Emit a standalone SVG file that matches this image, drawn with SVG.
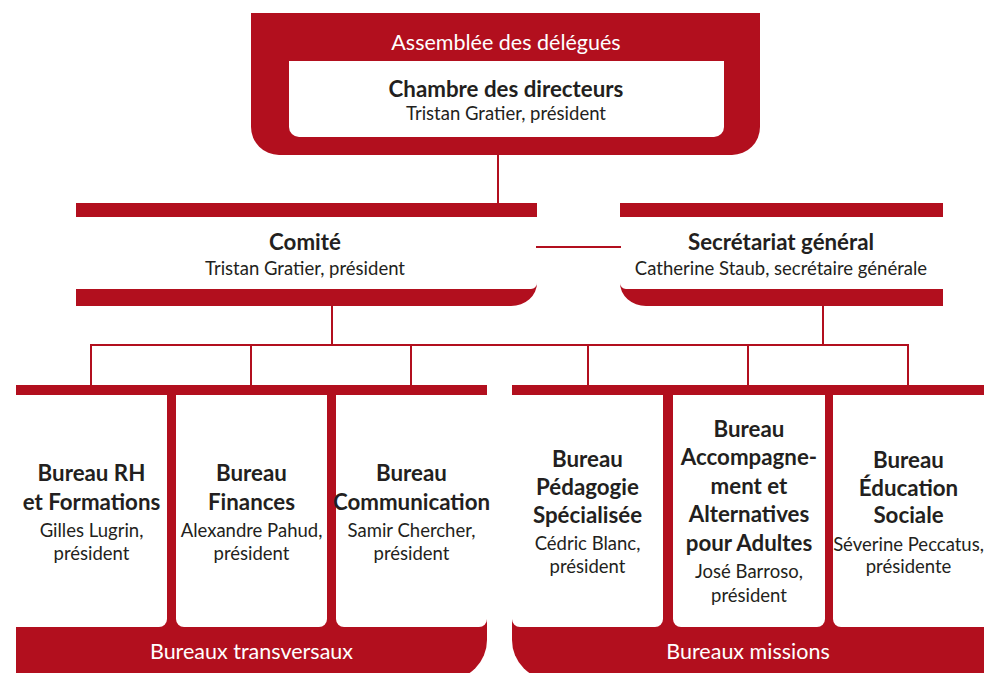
<svg xmlns="http://www.w3.org/2000/svg" width="984" height="673" viewBox="0 0 984 673">
<style>
.red{fill:#B20F1E}
.wh{fill:#FFFFFF}
.ln{stroke:#B20F1E;stroke-width:2;fill:none}
text{font-family:Lato,"Open Sans","Liberation Sans",sans-serif;text-anchor:middle}
.b{font-weight:bold;font-size:22.3px;fill:#231F20}
.r{font-size:18.5px;fill:#231F20}
.w{font-size:21.5px;fill:#FFFFFF}
</style>
<rect width="984" height="673" fill="#FFFFFF"/>
<g id="connectors">
<line class="ln" x1="498" y1="150" x2="498" y2="204"/>
<line class="ln" x1="536" y1="247" x2="621" y2="247"/>
<line class="ln" x1="332" y1="305" x2="332" y2="345"/>
<line class="ln" x1="823" y1="305" x2="823" y2="345"/>
<line class="ln" x1="90" y1="345" x2="909" y2="345"/>
<line class="ln" x1="91" y1="344" x2="91" y2="386"/>
<line class="ln" x1="251" y1="344" x2="251" y2="386"/>
<line class="ln" x1="411" y1="344" x2="411" y2="386"/>
<line class="ln" x1="588" y1="344" x2="588" y2="386"/>
<line class="ln" x1="748" y1="344" x2="748" y2="386"/>
<line class="ln" x1="908" y1="344" x2="908" y2="386"/>
</g>
<g id="assemblee">
<path class="red" d="M251,13 H760 V127 A28,28 0 0 1 732,155 H279 A28,28 0 0 1 251,127 Z"/>
<path class="wh" d="M289,61 H724 V127 A10,10 0 0 1 714,137 H299 A10,10 0 0 1 289,127 Z"/>
<text class="w" x="506" y="50">Assemblée des délégués</text>
<text class="b" x="506" y="97">Chambre des directeurs</text>
<text class="r" x="506" y="120">Tristan Gratier, président</text>
</g>
<g id="comite">
<rect class="red" x="76" y="203" width="461" height="14"/>
<path class="red" d="M76,289 H531 A6,6 0 0 0 537,283 A26,23 0 0 1 511,306 H76 Z"/>
<text class="b" x="305" y="250">Comité</text>
<text class="r" x="305" y="275">Tristan Gratier, président</text>
</g>
<g id="secretariat">
<rect class="red" x="620" y="203" width="323" height="14"/>
<path class="red" d="M943,289 H626 A6,6 0 0 1 620,283 A26,23 0 0 0 646,306 H943 Z"/>
<text class="b" x="781" y="250">Secrétariat général</text>
<text class="r" x="781" y="275">Catherine Staub, secrétaire générale</text>
</g>
<g id="bureaux-transversaux">
<path class="red" d="M16,385 H487 V640 A40,40 0 0 1 447,680 H16 Z"/>
<text class="w" x="251.5" y="659">Bureaux transversaux</text>
</g>
<g id="bureau-rh">
<path class="wh" d="M16,395 H167 V619 A8,8 0 0 1 159,627 H16 Z"/>
<text class="b" x="91.5" y="481">Bureau RH</text>
<text class="b" x="91.5" y="510">et Formations</text>
<text class="r" x="91.5" y="537">Gilles Lugrin,</text>
<text class="r" x="91.5" y="560">président</text>
</g>
<g id="bureau-finances">
<path class="wh" d="M176,395 H327 V619 A8,8 0 0 1 319,627 H184 A8,8 0 0 1 176,619 Z"/>
<text class="b" x="251.5" y="481">Bureau</text>
<text class="b" x="251.5" y="510">Finances</text>
<text class="r" x="251.5" y="537">Alexandre Pahud,</text>
<text class="r" x="251.5" y="560">président</text>
</g>
<g id="bureau-communication">
<path class="wh" d="M336,395 H487 V619 A8,8 0 0 1 479,627 H344 A8,8 0 0 1 336,619 Z"/>
<text class="b" x="411.5" y="481">Bureau</text>
<text class="b" x="411.5" y="510">Communication</text>
<text class="r" x="411.5" y="537">Samir Chercher,</text>
<text class="r" x="411.5" y="560">président</text>
</g>
<g id="bureaux-missions">
<path class="red" d="M512,385 H984 V680 H552 A40,40 0 0 1 512,640 Z"/>
<text class="w" x="748" y="659">Bureaux missions</text>
</g>
<g id="bureau-pedagogie">
<path class="wh" d="M512,395 H663 V619 A8,8 0 0 1 655,627 H520 A8,8 0 0 1 512,619 Z"/>
<text class="b" x="587.5" y="467">Bureau</text>
<text class="b" x="587.5" y="495">Pédagogie</text>
<text class="b" x="587.5" y="523">Spécialisée</text>
<text class="r" x="587.5" y="550">Cédric Blanc,</text>
<text class="r" x="587.5" y="573">président</text>
</g>
<g id="bureau-accompagnement">
<path class="wh" d="M673,395 H825 V619 A8,8 0 0 1 817,627 H681 A8,8 0 0 1 673,619 Z"/>
<text class="b" x="749" y="437">Bureau</text>
<text class="b" x="749" y="465">Accompagne-</text>
<text class="b" x="749" y="494">ment et</text>
<text class="b" x="749" y="522">Alternatives</text>
<text class="b" x="749" y="551">pour Adultes</text>
<text class="r" x="749" y="578">José Barroso,</text>
<text class="r" x="749" y="602">président</text>
</g>
<g id="bureau-education">
<path class="wh" d="M833,395 H984 V627 H841 A8,8 0 0 1 833,619 Z"/>
<text class="b" x="908.5" y="468">Bureau</text>
<text class="b" x="908.5" y="496">Éducation</text>
<text class="b" x="908.5" y="523">Sociale</text>
<text class="r" x="908.5" y="551">Séverine Peccatus,</text>
<text class="r" x="908.5" y="573">présidente</text>
</g>
</svg>
